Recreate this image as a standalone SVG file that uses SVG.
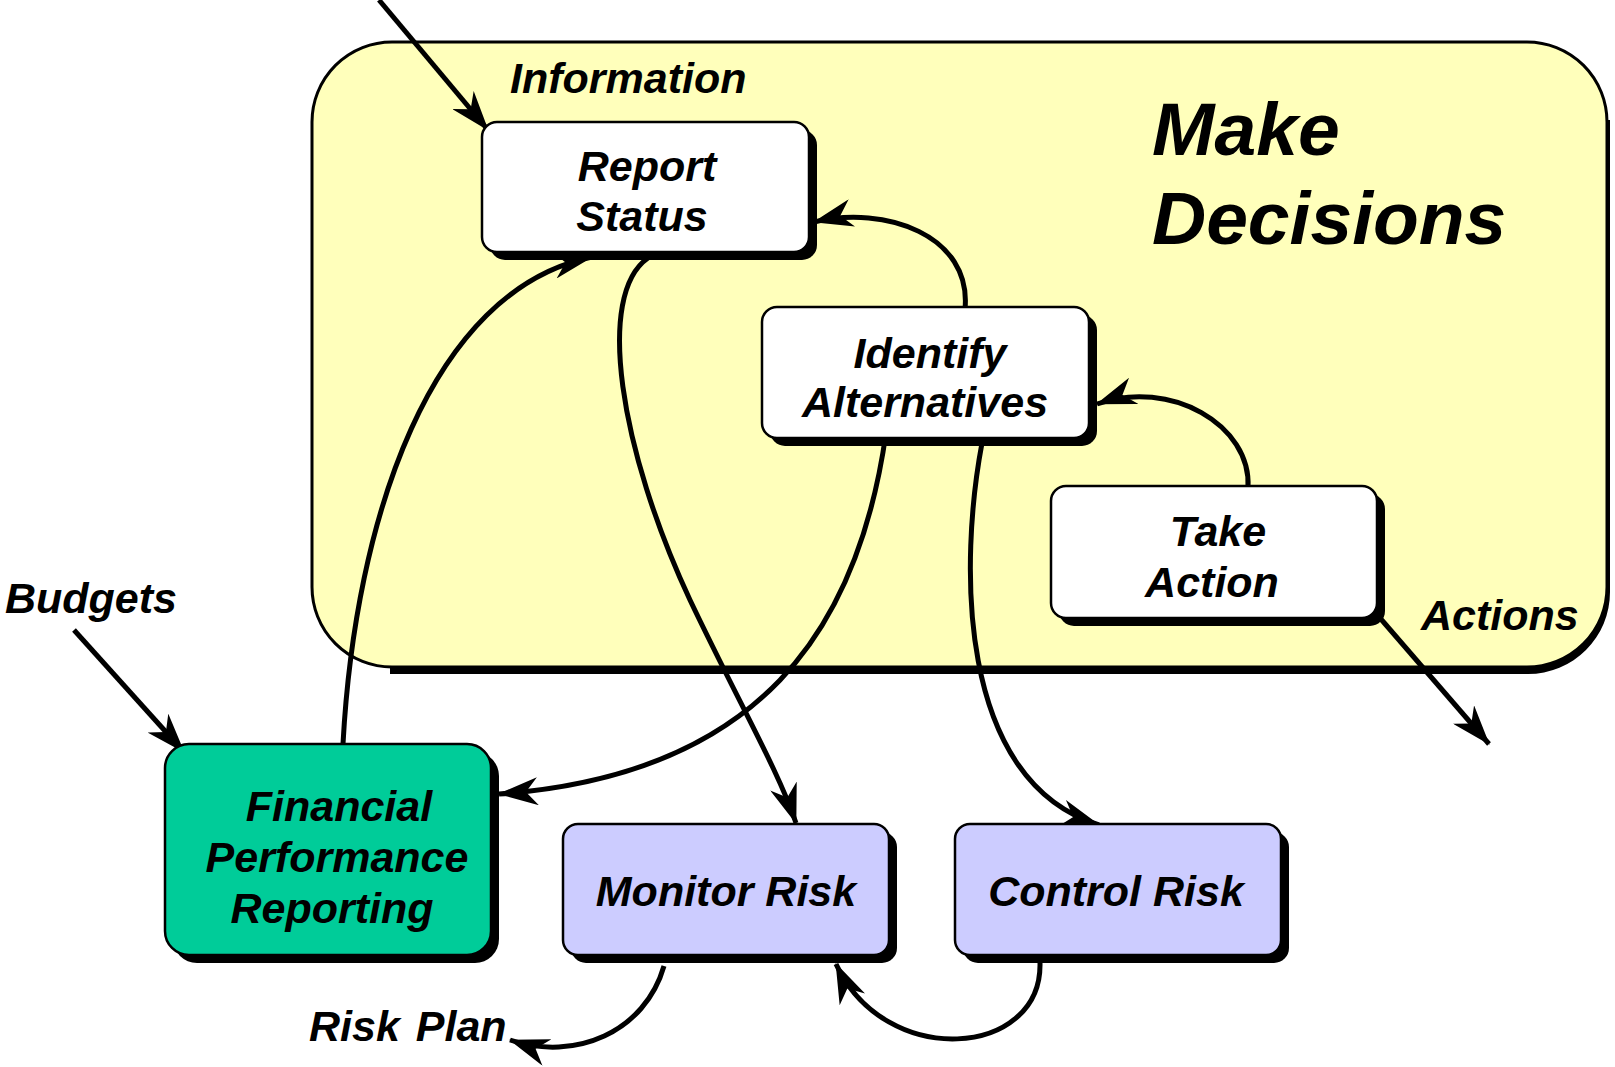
<svg xmlns="http://www.w3.org/2000/svg" width="1615" height="1067" viewBox="0 0 1615 1067">
<defs>
<style>
.t{font-family:"Liberation Sans",Arial,sans-serif;font-weight:bold;font-style:italic;font-size:43px;fill:#000;text-anchor:middle}
.l{font-family:"Liberation Sans",Arial,sans-serif;font-weight:bold;font-style:italic;font-size:43px;fill:#000}
.sh{fill:#000}
.box{stroke:#000;stroke-width:2.5}
.w{fill:#fff}
.g{fill:#00CC99}
.p{fill:#CCCCFF}
.c{fill:none;stroke:#000;stroke-width:5;marker-end:url(#ah)}
</style>
<marker id="ah" markerUnits="userSpaceOnUse" viewBox="0 0 40 28" refX="39" refY="14" markerWidth="40" markerHeight="28" orient="auto">
<path d="M0,0 L40,14 L0,28 L12,14 z" fill="#000"/>
</marker>
</defs>
<rect x="312" y="42" width="1295" height="625" rx="80" class="box" fill="#FFFFBB" style="stroke-width:3"/>
<path d="M1610,120 L1610,592 A82,82 0 0 1 1528,674 L390,674 L390,667 L1527,667 A80,80 0 0 0 1607,587 L1607,120 z" fill="#000"/>
<text class="l" x="1152" y="155" style="font-size:75px">Make</text>
<text class="l" x="1152" y="244" style="font-size:75px">Decisions</text>
<text class="l" x="510" y="93">Information</text>
<text class="l" x="5" y="613">Budgets</text>
<text class="l" x="1421" y="630">Actions</text>
<text class="l" x="309" y="1041" style="word-spacing:4px">Risk Plan</text>
<g id="connectors">
<path class="c" d="M379,0 L488,130"/>
<path class="c" d="M74,630 L184,752"/>
<path class="c" d="M1380,618 L1489,744"/>
<path class="c" d="M343,744 C 355,520 430,290 592,257"/>
<path class="c" d="M648,258 C 595,295 620,450 690,600 C 740,705 778,770 796,823"/>
<path class="c" d="M965,309 C 972,235 885,205 814,222"/>
<path class="c" d="M1248,488 C 1252,425 1170,378 1097,404"/>
<path class="c" d="M886,433 C 858,630 760,775 499,794"/>
<path class="c" d="M982,443 C 960,560 955,780 1099,825"/>
<path class="c" d="M664,966 C 645,1032 575,1062 510,1040"/>
<path class="c" d="M1040,963 C 1042,1058 885,1070 836,964"/>
</g>
<g id="report-status">
<rect class="sh" x="490" y="130" width="327" height="130" rx="15"/>
<rect class="box w" x="482" y="122" width="327" height="130" rx="15"/>
<text class="t" x="647" y="181">Report</text>
<text class="t" x="642" y="231">Status</text>
</g>
<g id="identify-alternatives">
<rect class="sh" x="770" y="315" width="327" height="131" rx="15"/>
<rect class="box w" x="762" y="307" width="327" height="131" rx="15"/>
<text class="t" x="930" y="368">Identify</text>
<text class="t" x="925" y="417">Alternatives</text>
</g>
<g id="take-action">
<rect class="sh" x="1059" y="494" width="326" height="132" rx="15"/>
<rect class="box w" x="1051" y="486" width="326" height="132" rx="15"/>
<text class="t" x="1218" y="546">Take</text>
<text class="t" x="1212" y="597">Action</text>
</g>
<g id="financial-performance-reporting">
<rect class="sh" x="173" y="752" width="326" height="211" rx="24"/>
<rect class="box g" x="165" y="744" width="326" height="211" rx="24"/>
<text class="t" x="339" y="821">Financial</text>
<text class="t" x="337" y="872">Performance</text>
<text class="t" x="332" y="923">Reporting</text>
</g>
<g id="monitor-risk">
<rect class="sh" x="571" y="832" width="326" height="131" rx="15"/>
<rect class="box p" x="563" y="824" width="326" height="131" rx="15"/>
<text class="t" x="726" y="906">Monitor Risk</text>
</g>
<g id="control-risk">
<rect class="sh" x="963" y="832" width="326" height="131" rx="15"/>
<rect class="box p" x="955" y="824" width="326" height="131" rx="15"/>
<text class="t" x="1116" y="906">Control Risk</text>
</g>
</svg>
